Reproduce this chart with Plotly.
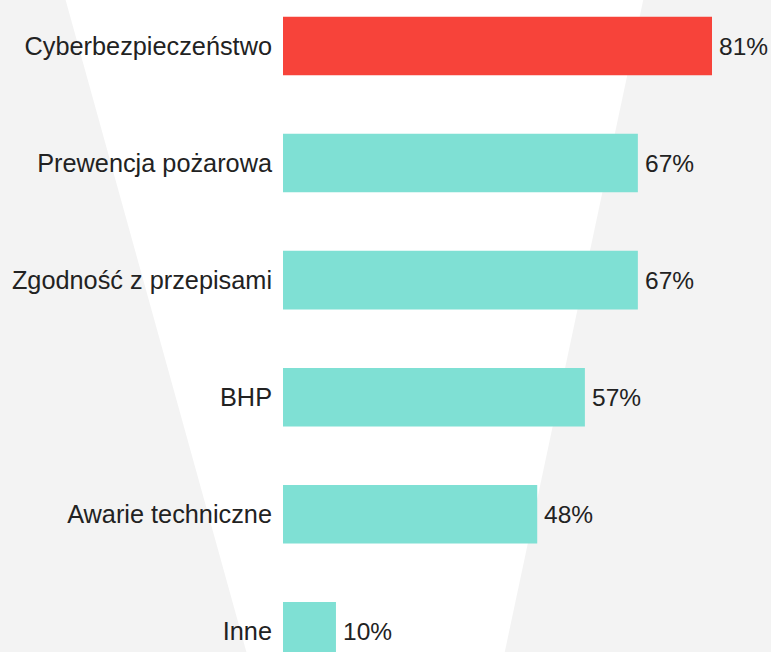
import plotly.graph_objects as go

# Survey results: share of respondents per risk area
categories = [
    "Cyberbezpieczeństwo",
    "Prewencja pożarowa",
    "Zgodność z przepisami",
    "BHP",
    "Awarie techniczne",
    "Inne",
]
values = [81, 67, 67, 57, 48, 10]
value_labels = ["81%", "67%", "67%", "57%", "48%", "10%"]

RED = "#F7433A"
TEAL = "#7FE0D4"
BG = "#F3F3F3"
TEXT = "#222222"
FONT = "Liberation Sans, Arial, sans-serif"

W, H = 771, 652
colors = [RED] + [TEAL] * (len(values) - 1)

fig = go.Figure(
    go.Bar(
        x=values,
        y=categories,
        orientation="h",
        width=0.5,
        marker=dict(color=colors, line=dict(width=0)),
        cliponaxis=False,
        hoverinfo="skip",
    )
)

# Percentage labels just past the end of each bar
for cat, val, lab in zip(categories, values, value_labels):
    fig.add_annotation(
        x=val,
        y=cat,
        text=lab,
        showarrow=False,
        xanchor="left",
        yanchor="middle",
        xshift=5,
        font=dict(family=FONT, size=24.5, color=TEXT),
    )

# White funnel band behind the bars
fig.add_shape(
    type="path",
    xref="paper",
    yref="paper",
    path=(
        f"M {62 / W} 1.02 L {646 / W} 1.02 "
        f"L {502 / W} -0.02 L {250 / W} -0.02 Z"
    ),
    fillcolor="white",
    line=dict(width=0),
    layer="below",
)

fig.update_layout(
    width=W,
    height=H,
    margin=dict(l=0, r=0, t=0, b=0),
    paper_bgcolor=BG,
    plot_bgcolor="rgba(0,0,0,0)",
    showlegend=False,
    font=dict(family=FONT, size=25, color=TEXT),
    xaxis=dict(
        domain=[283 / W, 1],
        range=[0, 92.14],
        visible=False,
        fixedrange=True,
    ),
    yaxis=dict(
        type="category",
        categoryorder="array",
        categoryarray=categories,
        range=[5.177, -0.393],
        showgrid=False,
        zeroline=False,
        showline=False,
        ticks="",
        ticklabelstandoff=10,
        tickfont=dict(family=FONT, size=25.3, color=TEXT),
        automargin=False,
        fixedrange=True,
    ),
)

fig.write_html("out.html")
